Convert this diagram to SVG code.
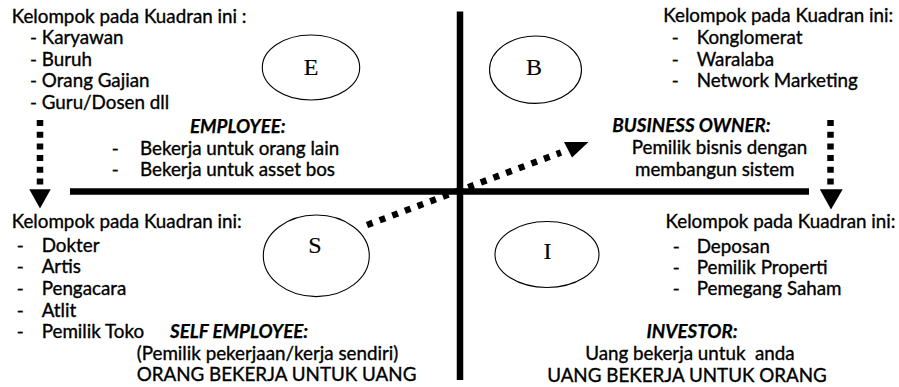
<svg xmlns="http://www.w3.org/2000/svg" width="899" height="387" viewBox="0 0 899 387">
<style>
  text { font-family: Lato, "Noto Sans", "Liberation Sans", sans-serif; font-size: 18.8px; fill: #000; stroke: #000; stroke-width: 0.35; }
  .h { font-weight: bold; font-style: italic; stroke-width: 0.25; }
  .mid { text-anchor: middle; }
  .letter { font-family: "Liberation Serif", "DejaVu Serif", serif; font-size: 24px; text-anchor: middle; stroke-width: 0.15; }
  .ell { fill: none; stroke: #000; stroke-width: 1.1; }
  .axis { stroke: #000; stroke-width: 6.5; fill: none; }
  .dots { stroke: #000; stroke-width: 6.5; fill: none; }
  .head { fill: #000; }
</style>
<rect width="899" height="387" fill="#fff"/>

<g id="connectors">
  <line class="axis" x1="460" y1="11.5" x2="460" y2="380"/>
  <line class="axis" x1="70" y1="191.5" x2="809" y2="191.5"/>
  <line class="dots" x1="40" y1="120" x2="40" y2="186" stroke-dasharray="6 5.7"/>
  <polygon class="head" points="29.3,189.3 50.7,189.3 40,208.5"/>
  <line class="dots" x1="830.5" y1="120" x2="830.5" y2="186" stroke-dasharray="6 5.7"/>
  <polygon class="head" points="819.8,189.3 842.7,189.3 831,209.5"/>
  <line class="dots" x1="367" y1="225" x2="561" y2="152.5" stroke-width="6" stroke-dasharray="6 7.5"/>
  <polygon class="head" points="564,142 588.5,142 572,157.5"/>
</g>

<g id="node-E">
  <ellipse class="ell" cx="311" cy="67.5" rx="48.7" ry="32.5"/>
  <text class="letter" x="311" y="75">E</text>
</g>
<g id="node-B">
  <ellipse class="ell" cx="535.5" cy="69.7" rx="46" ry="33.7"/>
  <text class="letter" x="534" y="75">B</text>
</g>
<g id="node-S">
  <ellipse class="ell" cx="316.3" cy="255.8" rx="53" ry="40.8"/>
  <text class="letter" x="315" y="252.5">S</text>
</g>
<g id="node-I">
  <ellipse class="ell" cx="547" cy="254.5" rx="52" ry="33"/>
  <text class="letter" x="547.5" y="259">I</text>
</g>

<g id="text-E">
  <text x="11.7" y="22.5">Kelompok pada Kuadran ini :</text>
  <text><tspan x="30" y="44.3">- Karyawan</tspan><tspan x="30" y="65.7">- Buruh</tspan><tspan x="30" y="87.3">- Orang Gajian</tspan><tspan x="30" y="109.3">- Guru/Dosen dll</tspan></text>
  <text class="h" x="190" y="132.7">EMPLOYEE:</text>
  <text><tspan x="111.7" y="154.5">-</tspan><tspan x="140" y="154.5">Bekerja untuk orang lain</tspan><tspan x="111.7" y="176">-</tspan><tspan x="140" y="176">Bekerja untuk asset bos</tspan></text>
</g>

<g id="text-B">
  <text x="663.3" y="22">Kelompok pada Kuadran ini:</text>
  <text><tspan x="671.7" y="44.3">-</tspan><tspan x="696.7" y="44.3">Konglomerat</tspan><tspan x="671.7" y="65.5">-</tspan><tspan x="696.7" y="65.5">Waralaba</tspan><tspan x="671.7" y="87.3">-</tspan><tspan x="696.7" y="87.3">Network Marketing</tspan></text>
  <text class="h" x="612.3" y="131.7">BUSINESS OWNER:</text>
  <text><tspan x="631.7" y="154">Pemilik bisnis dengan</tspan><tspan x="635" y="175.7">membangun sistem</tspan></text>
</g>

<g id="text-S">
  <text x="11.7" y="228">Kelompok pada Kuadran ini:</text>
  <text><tspan x="16.7" y="251.7">-</tspan><tspan x="41.7" y="251.7">Dokter</tspan><tspan x="16.7" y="273.3">-</tspan><tspan x="41.7" y="273.3">Artis</tspan><tspan x="16.7" y="295">-</tspan><tspan x="41.7" y="295">Pengacara</tspan><tspan x="16.7" y="316.7">-</tspan><tspan x="41.7" y="316.7">Atlit</tspan><tspan x="16.7" y="338.3">-</tspan><tspan x="41.7" y="338.3">Pemilik Toko</tspan></text>
  <text class="h" x="170" y="338.3">SELF EMPLOYEE:</text>
  <text><tspan x="136.7" y="359.5">(Pemilik pekerjaan/kerja sendiri)</tspan><tspan x="136.7" y="381">ORANG BEKERJA UNTUK UANG</tspan></text>
</g>

<g id="text-I">
  <text x="665.5" y="228">Kelompok pada Kuadran ini:</text>
  <text><tspan x="672.7" y="252.5">-</tspan><tspan x="696.7" y="252.5">Deposan</tspan><tspan x="672.7" y="274">-</tspan><tspan x="696.7" y="274">Pemilik Properti</tspan><tspan x="672.7" y="295">-</tspan><tspan x="696.7" y="295">Pemegang Saham</tspan></text>
  <text class="h mid" x="692" y="338">INVESTOR:</text>
  <text class="mid" xml:space="preserve"><tspan x="690" y="360">Uang bekerja untuk  anda</tspan><tspan x="687" y="381.5">UANG BEKERJA UNTUK ORANG</tspan></text>
</g>
</svg>
